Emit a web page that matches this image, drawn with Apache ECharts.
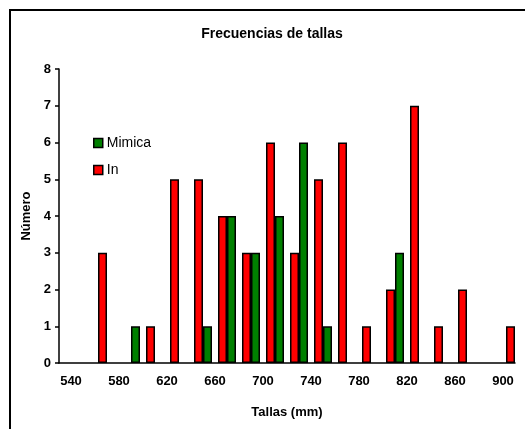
<!DOCTYPE html>
<html>
<head>
<meta charset="utf-8">
<script src="https://cdn.jsdelivr.net/npm/echarts@6/dist/echarts.min.js"></script>
<style>
  html, body { margin: 0; padding: 0; background: #fff; }
  #chart { width: 525px; height: 429px; }
</style>
</head>
<body>
<div id="chart"></div>
<script>
// === ДАННЫЕ ===
// Категории оси X (подписи между делениями)
const tallas = ['540', '560', '580', '600', '620', '640', '660', '680', '700', '720',
                '740', '760', '780', '800', '820', '840', '860', '880', '900'];
// Границы классов (по делениям оси) — на них стоят пары столбцов
const limites = ['530', '550', '570', '590', '610', '630', '650', '670', '690', '710',
                 '730', '750', '770', '790', '810', '830', '850', '870', '890', '910'];
const inValues     = [0, 0, 3, 0, 1, 5, 5, 4, 3, 6, 3, 5, 6, 1, 2, 7, 1, 2, 0, 1];
const mimicaValues = [0, 0, 0, 1, 0, 0, 1, 4, 3, 4, 6, 1, 0, 0, 3, 0, 0, 0, 0, 0];
const yTicks = [0, 1, 2, 3, 4, 5, 6, 7, 8];

const FONT = '"Liberation Sans", Arial, sans-serif';

// нули в Excel не рисуются
const noZero = arr => arr.map(v => (v === 0 ? '-' : v));

const chart = echarts.init(document.getElementById('chart'), null, { renderer: 'canvas' });

const option = {
    backgroundColor: '#fff',
    animation: false,
    textStyle: { fontFamily: FONT },
    graphic: [{
        type: 'rect',
        shape: { x: 10, y: 10, width: 530, height: 430 },
        style: { fill: 'none', stroke: '#000', lineWidth: 2 },
        silent: true
    }],
    title: {
        text: 'Frecuencias de tallas',
        left: 267,
        textAlign: 'center',
        top: 22,
        textStyle: { fontSize: 14, fontWeight: 'bold', color: '#000', fontFamily: FONT }
    },
    legend: {
        data: ['Mimica', 'In'],
        orient: 'vertical',
        left: 88,
        top: 131,
        icon: 'rect',
        itemWidth: 9,
        itemHeight: 9,
        itemGap: 13,
        textStyle: { fontSize: 14, color: '#000', fontFamily: FONT, padding: [0, 0, 0, -1] },
        itemStyle: { borderColor: '#000', borderWidth: 1.5 }
    },
    grid: { left: 59, right: 10, top: 69, bottom: 66 },
    xAxis: [{
        type: 'category',
        data: tallas,
        boundaryGap: true,
        name: 'Tallas (mm)',
        nameLocation: 'middle',
        nameGap: 43,
        nameTextStyle: { fontSize: 13, fontWeight: 'bold', color: '#000', fontFamily: FONT },
        axisLine: { lineStyle: { color: '#000', width: 1.5 } },
        axisTick: { interval: 0, length: 5, lineStyle: { color: '#000', width: 1.5 } },
        axisLabel: { interval: 1, fontSize: 13, fontWeight: 'bold', color: '#000', margin: 12, fontFamily: FONT },
        splitLine: { show: false }
    }, {
        type: 'category',
        data: limites,
        boundaryGap: false,
        show: false
    }],
    yAxis: {
        type: 'value',
        min: yTicks[0],
        max: yTicks[yTicks.length - 1],
        interval: 1,
        name: 'Número',
        nameLocation: 'middle',
        nameGap: 25,
        nameRotate: 90,
        nameTextStyle: { fontSize: 13, fontWeight: 'bold', color: '#000', fontFamily: FONT },
        axisLine: { show: true, lineStyle: { color: '#000', width: 1.5 } },
        axisTick: { show: true, length: 4, lineStyle: { color: '#000', width: 1.5 } },
        axisLabel: { fontSize: 13, fontWeight: 'bold', color: '#000', margin: 8, fontFamily: FONT },
        splitLine: { show: false }
    },
    series: [{
        name: 'In',
        type: 'bar',
        xAxisIndex: 1,
        data: noZero(inValues),
        barWidth: 9,
        barGap: '0%',
        itemStyle: { color: '#ff0000', borderColor: '#000', borderWidth: 1.5 }
    }, {
        name: 'Mimica',
        type: 'bar',
        xAxisIndex: 1,
        data: noZero(mimicaValues),
        barWidth: 9,
        barGap: '0%',
        itemStyle: { color: '#008000', borderColor: '#000', borderWidth: 1.5 }
    }]
};

chart.setOption(option);
</script>
</body>
</html>
